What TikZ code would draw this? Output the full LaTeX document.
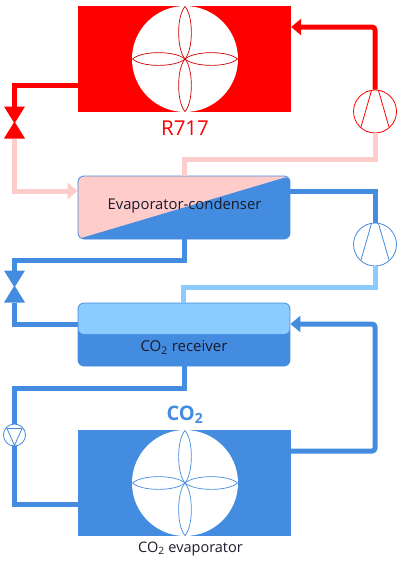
\documentclass[tikz,border=0pt]{standalone}
\usepackage{fontspec}
\setmainfont{Open Sans}
\usetikzlibrary{arrows.meta,calc}
\definecolor{rd}{HTML}{FF0000}
\definecolor{pk}{HTML}{FFCCCC}
\definecolor{bl}{HTML}{438CDF}
\definecolor{lb}{HTML}{8CCBFF}
\definecolor{txt}{HTML}{1A1A2A}
\tikzset{
  x=1pt,y=-1pt,
  wire/.style={line width=5pt,rounded corners=0pt},
  tipped/.style={wire,-{Triangle[length=10pt,width=16pt]}},
  hx/.style={rectangle,inner sep=0pt,minimum width=213pt,minimum height=106.5pt,fill=#1},
  vessel/.style={rectangle,rounded corners=6pt,inner sep=0pt,minimum width=212pt,minimum height=63pt,draw=bl,line width=0.8pt,text=txt},
  fan/.style={circle,fill=white,inner sep=0pt,minimum size=106pt},
  comp/.style={circle,draw=#1,line width=0.8pt,fill=white,inner sep=0pt,minimum size=43pt},
  pumpc/.style={circle,draw=bl,line width=0.8pt,fill=white,inner sep=0pt,minimum size=22pt},
}
\newcommand{\petals}[2]{%
  \foreach \a in {0,90,180,270}{
    \begin{scope}[shift={(#1)},rotate=\a]
    \draw[#2,line width=0.7pt]
      (0,0) .. controls (-10,-8.5) and (-43,-8.5) .. (-52.5,0)
      .. controls (-43,8.5) and (-10,8.5) .. (0,0);
    \end{scope}
  }}
\newcommand{\compblades}[2]{%
  \draw[#2,line width=0.8pt] ($(#1)+(-3.5,-21)$) -- ($(#1)+(-14,15.5)$);
  \draw[#2,line width=0.8pt] ($(#1)+(3.5,-21)$) -- ($(#1)+(14,15.5)$);}
\begin{document}
\begin{tikzpicture}
\useasboundingbox (0,0) rectangle (400,566);
% heat exchangers
\node[hx=rd] (cond) at (184.5,59) {};
\node[hx=bl] (evap) at (184.5,483) {};
\node[fan] (fan1) at (185,59) {};
\node[fan] (fan2) at (185,483) {};
\petals{fan1}{rd!80!black}
\petals{fan2}{bl}
% vessels
\node[vessel,path picture={
  \fill[pk] (path picture bounding box.north west) rectangle (path picture bounding box.south east);
  \fill[bl] (path picture bounding box.south west) -- (path picture bounding box.north east) -- (path picture bounding box.south east) -- cycle;
}] (ec) at (184,207.5) {};
\node[text=txt,font=\fontsize{14.8}{16}\selectfont] (eclabel) at (184.5,205.5) {Evaporator-condenser};
\node[vessel,path picture={
  \fill[bl] (path picture bounding box.north west) rectangle (path picture bounding box.south east);
  \fill[lb] (path picture bounding box.north west) rectangle ($(path picture bounding box.north east)+(0,31)$);
}] (rc) at (184,334.5) {};
\node[text=txt,font=\fontsize{15}{17}\selectfont] (rclabel) at (184,347.5) {CO\textsubscript{2} receiver};
% machines
\node[comp=rd] (c1) at (375,111.5) {};
\node[comp=bl] (c2) at (375,244.5) {};
\node[pumpc] (pu) at (14.5,435) {};
\compblades{c1}{rd}
\compblades{c2}{bl}
\draw[bl,line width=0.8pt] ($(pu)+(-7.5,-6.5)$) -- ($(pu)+(7.5,-6.5)$) -- ($(pu)+(0,10.5)$) -- cycle;
% valves
\coordinate (v1) at (14.5,122.5);
\coordinate (v2) at (14.5,286.5);
\fill[rd] ($(v1)+(-10.5,-16)$) -- ($(v1)+(10.5,-16)$) -- ($(v1)+(0,1)$) -- cycle;
\fill[rd] ($(v1)+(-10.5,16)$) -- ($(v1)+(10.5,16)$) -- ($(v1)+(0,-1)$) -- cycle;
\fill[bl] ($(v2)+(-10.5,-16)$) -- ($(v2)+(10.5,-16)$) -- ($(v2)+(0,1)$) -- cycle;
\fill[bl] ($(v2)+(-10.5,16)$) -- ($(v2)+(10.5,16)$) -- ($(v2)+(0,-1)$) -- cycle;
% connectors
\coordinate (condIn) at (cond.east |- 0,27);
\coordinate (condOut) at (cond.west |- 0,85.5);
\coordinate (ecPinkIn) at (ec.west |- 0,191);
\coordinate (ecBlOut) at (ec.east |- 0,191.5);
\coordinate (rcOut) at (rc.west |- 0,324);
\coordinate (rcIn) at (rc.east |- 0,324);
\coordinate (evOut) at (evap.east |- 0,451);
\coordinate (evIn) at (evap.west |- 0,504);
\draw[tipped,rd,rounded corners=3pt] (c1.north) -- (375,27) -- (condIn);
\draw[wire,rd] (condOut) -- (14.5,85.5) -- ($(v1)+(0,-14)$);
\draw[tipped,pk] ($(v1)+(0,16)$) -- (14.5,191) -- (ecPinkIn);
\draw[wire,pk] (c1.south) -- (375,159) -- (184,159) -- (184,175.5);
\draw[wire,bl] (ecBlOut) -- (375,191.5) -- (c2.north);
\draw[wire,lb] (c2.south) -- (375,287) -- (183.5,287) -- (183.5,302.5);
\draw[wire,bl] (ec.south) -- (184,260) -- (14.5,260) -- ($(v2)+(0,-14)$);
\draw[wire,bl] ($(v2)+(0,16)$) -- (14.5,324) -- (rcOut);
\draw[tipped,bl,rounded corners=3pt] (evOut) -- (375,451) -- (375,324) -- (rcIn);
\draw[wire,bl] (rc.south) -- (184,388) -- (14.5,388) -- (pu.north);
\draw[wire,bl] (pu.south) -- (14.5,504) -- (evIn);
% labels
\node[text=rd,font=\fontsize{20.5}{23}\selectfont] (r717) at (185,128.5) {R717};
\node[text=bl,font=\bfseries\fontsize{20}{23}\selectfont] (co2) at (185,415) {CO\textsubscript{2}};
\node[text=txt,font=\fontsize{14.5}{17}\selectfont] (evlabel) at (190.5,549) {CO\textsubscript{2} evaporator};
\end{tikzpicture}
\end{document}
